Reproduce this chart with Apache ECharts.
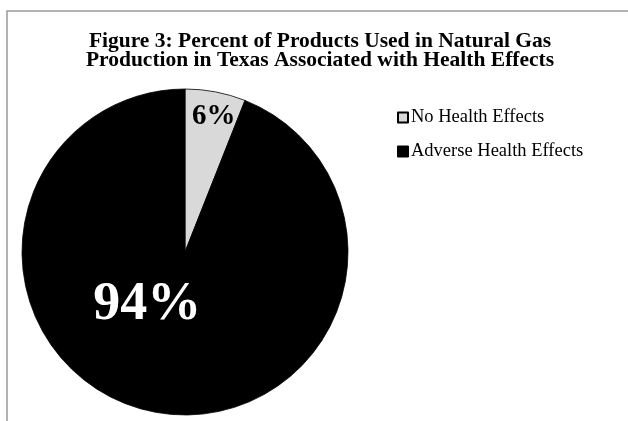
<!DOCTYPE html>
<html>
<head>
<meta charset="utf-8">
<script src="https://cdn.jsdelivr.net/npm/echarts@6/dist/echarts.min.js"></script>
<style>
html,body{margin:0;padding:0;background:#fff;}
#chart{width:628px;height:421px;}
</style>
</head>
<body>
<div id="chart"></div>
<script>
const titleLines = ['Figure 3: Percent of Products Used in Natural Gas', 'Production in Texas Associated with Health Effects'];
const categories = ['No Health Effects', 'Adverse Health Effects'];
const values = [6, 94];
const sliceColors = ['#d9d9d9', '#000000'];
const labelColors = ['#000000', '#ffffff'];

const chart = echarts.init(document.getElementById('chart'));
const serif = '"Liberation Serif", "Times New Roman", serif';

chart.setOption({
  animation: false,
  backgroundColor: '#ffffff',
  graphic: [{
    type: 'rect',
    shape: { x: 7, y: 11, width: 700, height: 500 },
    style: { fill: 'none', stroke: '#9a9a9a', lineWidth: 1.5 },
    silent: true
  }],
  title: {
    text: titleLines.join('\n'),
    left: 315,
    textAlign: 'center',
    top: 27,
    textStyle: {
      fontFamily: serif,
      fontWeight: 'bold',
      fontSize: 21.5,
      lineHeight: 19,
      color: '#000'
    }
  },
  legend: {
    orient: 'vertical',
    left: 397,
    top: 108,
    padding: 0,
    itemWidth: 10,
    itemHeight: 10,
    itemGap: 15,
    icon: 'rect',
    data: categories,
    textStyle: {
      fontFamily: serif,
      fontSize: 18.5,
      lineHeight: 18,
      color: '#000',
      padding: [0, 0, 0, -2]
    }
  },
  series: [{
    type: 'pie',
    center: [185, 252],
    radius: [0, 163],
    startAngle: 90,
    clockwise: true,
    avoidLabelOverlap: false,
    labelLine: { show: false },
    itemStyle: { borderColor: '#000', borderWidth: 0.8 },
    data: categories.map((name, i) => ({
      name: name,
      value: values[i],
      itemStyle: { color: sliceColors[i] },
      label: i === 0 ? {
        show: true,
        position: 'inside',
        offset: [13, -52],
        formatter: '{c}%',
        fontFamily: serif,
        fontWeight: 'bold',
        fontSize: 29,
        color: labelColors[i]
      } : {
        show: true,
        position: 'inside',
        offset: [-22, -30],
        formatter: '{c}%',
        fontFamily: serif,
        fontWeight: 'bold',
        fontSize: 54,
        color: labelColors[i]
      }
    })),
    emphasis: { disabled: true }
  }]
});
</script>
</body>
</html>
